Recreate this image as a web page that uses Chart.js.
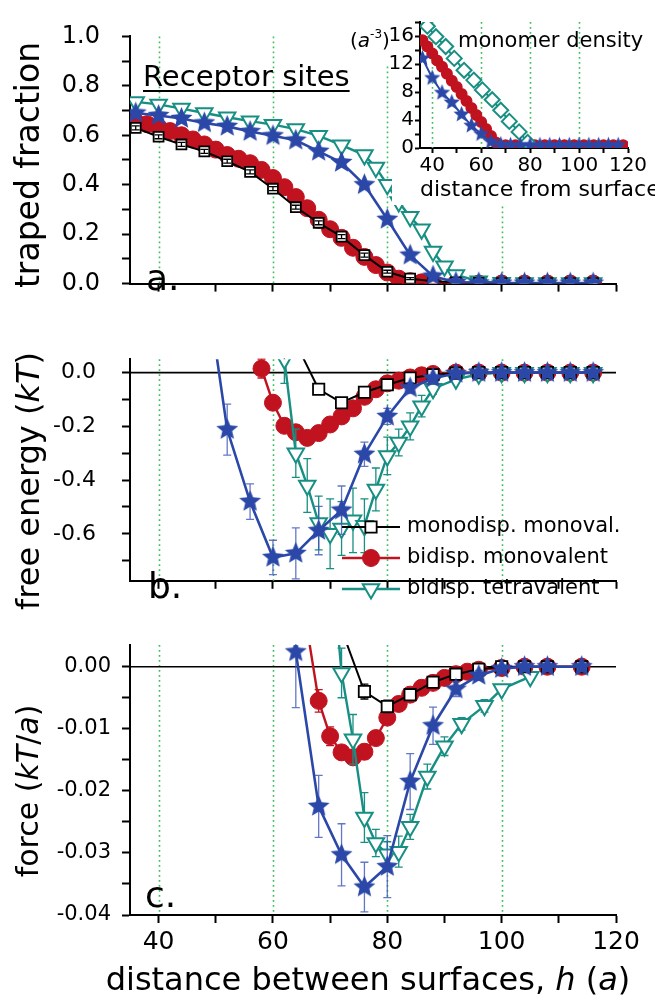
<!DOCTYPE html>
<html>
<head>
<meta charset="utf-8">
<script src="https://cdn.jsdelivr.net/npm/chart.js@4.4.1/dist/chart.umd.min.js"></script>
<style>
  html, body { margin: 0; padding: 0; background: #fff; overflow: hidden; }
  .box { position: absolute; }
</style>
</head>
<body>
<div class="box" style="left:0;top:0;width:655px;height:320px"><canvas id="panelA"></canvas></div>
<div class="box" style="left:0;top:320px;width:655px;height:300px"><canvas id="panelB"></canvas></div>
<div class="box" style="left:0;top:620px;width:655px;height:380px"><canvas id="panelC"></canvas></div>
<div class="box" style="left:340px;top:0;width:315px;height:205px"><canvas id="inset"></canvas></div>
<script>
// ---- data ----
const seriesNames = ["monodisp. monoval.", "bidisp. monovalent", "bidisp. tetravalent"];
const gridAt = [40, 60, 80, 100];

// a. traped fraction
const hA_mono = [36, 40, 44, 48, 52, 56, 60, 64, 68, 72, 76, 80, 84, 88, 92, 96, 100, 104, 108, 112, 116];
const fA_mono = [0.63, 0.594, 0.563, 0.535, 0.495, 0.452, 0.384, 0.309, 0.246, 0.19, 0.115, 0.048, 0.02, 0.01, 0.005, 0.003, 0.002, 0.002, 0.002, 0.002, 0.002];
const eA_mono = [0.008, 0.008, 0.008, 0.008, 0.008, 0.008, 0.008, 0.008, 0.008, 0.008, 0.008, 0.006, 0.004, 0, 0, 0, 0, 0, 0, 0, 0];
const hA_bimono = [36, 38, 40, 42, 44, 46, 48, 50, 52, 54, 56, 58, 60, 62, 64, 66, 68, 70, 72, 74, 76, 78, 80, 82, 84, 86, 88, 92, 96, 100, 104, 108, 112, 116];
const fA_bimono = [0.655, 0.645, 0.632, 0.617, 0.6, 0.583, 0.563, 0.542, 0.52, 0.505, 0.487, 0.46, 0.427, 0.39, 0.35, 0.305, 0.258, 0.22, 0.185, 0.145, 0.108, 0.075, 0.045, 0.02, 0.01, 0.005, 0.002, 0.001, 0, 0, 0, 0, 0, 0];
const hA_tetra = [36, 40, 44, 48, 52, 56, 60, 64, 68, 72, 76, 78, 80, 82, 84, 86, 88, 90, 92, 96, 100, 104, 108, 112, 116];
const fA_tetra = [0.735, 0.725, 0.708, 0.69, 0.673, 0.657, 0.643, 0.625, 0.598, 0.56, 0.52, 0.47, 0.4, 0.33, 0.27, 0.22, 0.13, 0.07, 0.035, 0.01, 0.003, 0.002, 0.002, 0.002, 0.002];
const hA_star = [36, 40, 44, 48, 52, 56, 60, 64, 68, 72, 76, 80, 84, 88, 92, 96, 100, 104, 108, 112, 116];
const fA_star = [0.69, 0.68, 0.668, 0.65, 0.636, 0.615, 0.598, 0.58, 0.535, 0.49, 0.4, 0.26, 0.115, 0.03, 0.005, 0.003, 0.002, 0.002, 0.002, 0.002, 0.002];

// b. free energy
const hB_mono = [64, 68, 72, 76, 80, 84, 88, 92, 96, 100, 104, 108, 112, 116];
const gB_mono = [0.11, -0.062, -0.112, -0.073, -0.045, -0.02, -0.008, -0.002, 0, 0, 0, 0, 0, 0];
const eB_mono = [0, 0.008, 0.012, 0.01, 0.008, 0.006, 0.004, 0, 0, 0, 0, 0, 0, 0];
const hB_bimono = [58, 60, 62, 64, 66, 68, 70, 72, 74, 76, 78, 80, 82, 84, 86, 88, 92, 96, 100, 104, 108, 112, 116];
const gB_bimono = [0.015, -0.112, -0.198, -0.222, -0.243, -0.225, -0.193, -0.163, -0.133, -0.09, -0.062, -0.04, -0.03, -0.018, -0.01, -0.005, 0, 0, 0, 0, 0, 0, 0];
const eB_bimono = [0.035, 0.02, 0.015, 0.01, 0.01, 0.01, 0.008, 0.008, 0.006, 0.006, 0.005, 0.005, 0.004, 0, 0, 0, 0, 0, 0, 0, 0, 0, 0];
const hB_tetra = [62, 64, 66, 68, 70, 72, 74, 76, 78, 80, 82, 84, 86, 88, 92, 96, 100, 104, 108, 112, 116];
const gB_tetra = [0.05, -0.3, -0.42, -0.56, -0.6, -0.58, -0.55, -0.57, -0.435, -0.31, -0.26, -0.2, -0.125, -0.06, -0.025, -0.006, 0, 0, 0, 0, 0];
const eB_tetra = [0.09, 0.09, 0.1, 0.1, 0.13, 0.1, 0.12, 0.1, 0.08, 0.07, 0.05, 0.05, 0.04, 0.02, 0.01, 0, 0, 0, 0, 0, 0];
const hB_star = [48, 52, 56, 60, 64, 68, 72, 76, 80, 84, 88, 92, 96, 100, 104, 108, 112, 116];
const gB_star = [0.38, -0.212, -0.48, -0.688, -0.673, -0.588, -0.512, -0.304, -0.163, -0.057, -0.021, -0.003, 0, 0, 0, 0, 0, 0];
const eB_star = [0, 0.095, 0.066, 0.064, 0.095, 0.09, 0.09, 0.045, 0.03, 0.02, 0.01, 0, 0, 0, 0, 0, 0, 0];

// c. force
const hC_mono = [72, 76, 80, 84, 88, 92, 96, 100, 104, 108, 114];
const pC_mono = [0.006, -0.004, -0.0064, -0.0045, -0.0025, -0.0012, -0.0004, 0, 0, 0, 0];
const eC_mono = [0, 0.0012, 0.001, 0.0008, 0.0006, 0.0005, 0.0004, 0, 0, 0, 0];
const hC_bimono = [66, 68, 70, 72, 74, 76, 78, 80, 82, 84, 86, 88, 90, 92, 94, 96, 100, 104, 108, 114];
const pC_bimono = [0.006, -0.0055, -0.0112, -0.0138, -0.0146, -0.0137, -0.0115, -0.0082, -0.006, -0.0045, -0.0034, -0.0026, -0.0018, -0.0012, -0.0008, -0.0005, -0.0002, 0, 0, 0];
const eC_bimono = [0, 0.0018, 0.0015, 0.001, 0.001, 0.0012, 0.001, 0.0008, 0.0006, 0.0005, 0.0004, 0.0004, 0, 0, 0, 0, 0, 0, 0, 0];
const hC_tetra = [70, 72, 74, 76, 78, 80, 82, 84, 87, 90, 93, 97, 100, 105];
const pC_tetra = [0.02, -0.001, -0.0117, -0.0243, -0.0284, -0.0302, -0.0298, -0.0258, -0.0177, -0.0128, -0.0092, -0.0063, -0.0036, -0.0016];
const eC_tetra = [0, 0.004, 0.004, 0.004, 0.0022, 0.002, 0.0025, 0.002, 0.002, 0.0015, 0.001, 0.001, 0.0006, 0.0005];
const hC_star = [64, 68, 72, 76, 80, 84, 88, 92, 96, 100, 104, 108, 114];
const pC_star = [0.0024, -0.0225, -0.0303, -0.0355, -0.0322, -0.0185, -0.0095, -0.0036, -0.0014, -0.0003, 0, 0, 0];
const eC_star = [0.009, 0.005, 0.005, 0.004, 0.005, 0.0045, 0.003, 0.0012, 0.0008, 0.0005, 0, 0, 0];

// inset: monomer density
const hI_tetra = [38, 41.5, 45.5, 49, 53, 57, 60.5, 64.5, 68, 71.5, 75.5, 79];
const nI_tetra = [17.4, 15.9, 14.5, 12.8, 11.1, 9.7, 8.3, 6.9, 5.4, 3.8, 2.3, 0.8];
const hI_bimono = [36, 38, 40, 42, 44, 46, 48, 50, 52, 54, 56, 58, 60, 62, 64, 66, 70, 74, 78, 82, 86, 90, 94, 98, 102, 106, 110, 114, 118];
const nI_bimono = [15.4, 14.5, 13.5, 12.5, 11.6, 10.6, 9.6, 8.7, 7.7, 6.7, 5.7, 4.7, 3.7, 2.7, 1.7, 0.8, 0.4, 0.4, 0.4, 0.4, 0.4, 0.4, 0.4, 0.4, 0.4, 0.4, 0.4, 0.4, 0.4];
const hI_star = [36, 40, 44, 48, 52, 56, 60, 64, 68, 72, 76, 80, 84, 88, 92, 96, 100, 104, 108, 112, 116];
const nI_star = [12.8, 10.0, 7.9, 6.5, 4.8, 3.2, 2.0, 0.9, 0.5, 0.4, 0.4, 0.4, 0.4, 0.4, 0.4, 0.4, 0.4, 0.4, 0.4, 0.4, 0.4];

// ---- styling ----
const FONT = '"DejaVu Sans", sans-serif';
const BLACK = "#000000", RED = "#c1121f", BLUE = "#2b48a8", TEAL = "#178f82", GREEN = "#3cbf5e";
Chart.defaults.font.family = FONT;
Chart.defaults.color = "#000";

function starImage(r, color) {
  const c = document.createElement("canvas");
  const s = Math.ceil(2 * r + 2);
  c.width = c.height = s;
  const g = c.getContext("2d");
  g.fillStyle = color;
  g.beginPath();
  for (let i = 0; i < 10; i++) {
    const rr = i % 2 ? r * 0.45 : r;
    const a = -Math.PI / 2 + i * Math.PI / 5;
    g.lineTo(s / 2 + rr * Math.cos(a), s / 2 + rr * Math.sin(a));
  }
  g.closePath();
  g.fill();
  return c;
}

function series(xs, ys, errs, style) {
  return Object.assign({
    data: xs.map((x, i) => ({ x: x, y: ys[i] })),
    errors: errs,
    tension: 0,
    fill: false
  }, style);
}

const monoStyle = { label: seriesNames[0], keyRow: 0, borderColor: BLACK, borderWidth: 2, pointStyle: "rect", pointRadius: 8, pointBackgroundColor: "#fff", pointBorderColor: BLACK, pointBorderWidth: 1.8 };
const bimonoStyle = { label: seriesNames[1], keyRow: 1, borderColor: RED, borderWidth: 2.4, pointStyle: "circle", pointRadius: 8.5, pointBackgroundColor: RED, pointBorderColor: RED, pointBorderWidth: 1 };
const tetraStyle = { label: seriesNames[2], keyRow: 2, borderColor: TEAL, borderWidth: 2.4, pointStyle: "triangle", pointRotation: 180, pointRadius: 9.5, pointBackgroundColor: "#fff", pointBorderColor: TEAL, pointBorderWidth: 2 };
const starStyle = { borderColor: BLUE, borderWidth: 2.6, pointStyle: starImage(11.5, BLUE), errorColor: "rgba(60,85,185,0.8)" };

// dotted guides and the zero line
const guides = {
  id: "guides",
  beforeDatasetsDraw(chart, args, o) {
    const { ctx, chartArea: a, scales: { x, y } } = chart;
    ctx.save();
    ctx.strokeStyle = GREEN;
    ctx.lineWidth = 1.6;
    ctx.setLineDash([1.8, 3.2]);
    (o.at || []).forEach(v => {
      const px = Math.round(x.getPixelForValue(v)) + 0.5;
      ctx.beginPath(); ctx.moveTo(px, a.top); ctx.lineTo(px, a.bottom); ctx.stroke();
    });
    if (o.zero) {
      ctx.setLineDash([]);
      ctx.strokeStyle = "#000";
      ctx.lineWidth = 1.6;
      const py = y.getPixelForValue(0);
      ctx.beginPath(); ctx.moveTo(a.left, py); ctx.lineTo(a.right, py); ctx.stroke();
    }
    ctx.restore();
  }
};

function drawErrors(chart, index, onTop) {
  const ds = chart.data.datasets[index];
  if (!ds.errors || !!ds.errorsOnTop !== onTop) return;
  const { ctx, chartArea: a, scales: { x, y } } = chart;
  ctx.save();
  ctx.beginPath(); ctx.rect(a.left, a.top - 1, a.width, a.height + 2); ctx.clip();
  ctx.strokeStyle = ds.errorColor || ds.borderColor;
  ctx.lineWidth = 1.3;
  ds.data.forEach((p, i) => {
    const e = ds.errors[i];
    if (!e) return;
    const px = x.getPixelForValue(p.x);
    const y1 = y.getPixelForValue(p.y - e), y2 = y.getPixelForValue(p.y + e);
    ctx.beginPath();
    ctx.moveTo(px, y1); ctx.lineTo(px, y2);
    ctx.moveTo(px - 4, y1); ctx.lineTo(px + 4, y1);
    ctx.moveTo(px - 4, y2); ctx.lineTo(px + 4, y2);
    ctx.stroke();
  });
  ctx.restore();
}
const errorBars = {
  id: "errorBars",
  beforeDatasetDraw(chart, args) { drawErrors(chart, args.index, false); },
  afterDatasetDraw(chart, args) { drawErrors(chart, args.index, true); }
};

// free text: titles, panel letters, notes
const figText = {
  id: "figText",
  beforeDraw(chart, args, o) {
    if (!o.blank) return;
    const ctx = chart.ctx;
    ctx.save();
    ctx.fillStyle = "#fff";
    o.blank.forEach(r => ctx.fillRect(r[0], r[1], r[2], r[3]));
    ctx.restore();
  },
  afterDraw(chart, args, o) {
    const ctx = chart.ctx;
    (o.items || []).forEach(it => {
      ctx.save();
      ctx.translate(it.x, it.y);
      if (it.rotate) ctx.rotate(-Math.PI / 2);
      ctx.fillStyle = "#000";
      ctx.textBaseline = "alphabetic";
      const fontOf = p => (p[1] === "i" ? "italic " : "") + (p[1] === "sup" ? Math.round(it.size * 0.62) : it.size) + "px " + FONT;
      let w = 0;
      it.parts.forEach(p => { ctx.font = fontOf(p); w += ctx.measureText(p[0]).width; });
      let cx = it.align === "center" ? -w / 2 : 0;
      const x0 = cx;
      it.parts.forEach(p => {
        ctx.font = fontOf(p);
        ctx.fillText(p[0], cx, p[1] === "sup" ? -it.size * 0.45 : 0);
        cx += ctx.measureText(p[0]).width;
      });
      if (it.underline) ctx.fillRect(x0, 4, w, 2);
      ctx.restore();
    });
  }
};

const seriesKey = {
  id: "seriesKey",
  afterDatasetsDraw(chart, args, o) {
    if (!o.show) return;
    const ctx = chart.ctx;
    const rows = chart.data.datasets.filter(d => d.label).sort((a, b) => a.keyRow - b.keyRow);
    rows.forEach((d, i) => {
      const y = o.y + i * o.gap;
      ctx.save();
      ctx.strokeStyle = d.borderColor;
      ctx.lineWidth = d.borderWidth;
      ctx.beginPath(); ctx.moveTo(o.x, y); ctx.lineTo(o.x + o.len, y); ctx.stroke();
      ctx.fillStyle = d.pointBackgroundColor;
      ctx.strokeStyle = d.pointBorderColor;
      ctx.lineWidth = d.pointBorderWidth;
      Chart.helpers.drawPoint(ctx, { pointStyle: d.pointStyle, rotation: d.pointRotation || 0, radius: d.pointRadius, borderWidth: d.pointBorderWidth }, o.x + o.len / 2, y);
      ctx.fillStyle = "#000";
      ctx.font = o.size + "px " + FONT;
      ctx.textBaseline = "middle";
      ctx.fillText(d.label, o.x + o.len + 7, y);
      ctx.restore();
    });
  }
};

function xAxis(showLabels, height, size) {
  return {
    type: "linear", min: 35, max: 120,
    afterFit: s => { s.height = height; },
    ticks: {
      display: showLabels, stepSize: 10, autoSkip: false, includeBounds: false, maxRotation: 0, padding: 4,
      font: { size: size || 12 }, color: "#000",
      callback: v => (v % 20 === 0 ? String(v) : "")
    },
    grid: { drawOnChartArea: false, drawTicks: true, tickLength: 8, tickWidth: 2, tickColor: "#000" },
    border: { display: true, color: "#000", width: 2 }
  };
}
function yAxis(min, max, step, every, digits, size, pad) {
  return {
    type: "linear", min: min, max: max,
    afterFit: s => { s.width = 120; },
    ticks: {
      stepSize: step, autoSkip: false, includeBounds: false, padding: pad,
      font: { size: size }, color: "#000",
      callback: v => (Math.round(v / step) % every === 0 ? (Math.abs(v) < 1e-9 ? 0 : v).toFixed(digits) : "")
    },
    grid: { drawOnChartArea: false, drawTicks: true, tickLength: 8, tickWidth: 2, tickColor: "#000" },
    border: { display: true, color: "#000", width: 2 }
  };
}

function panel(id, datasets, scales, padding, extra) {
  return new Chart(document.getElementById(id), {
    type: "line",
    data: { datasets: datasets },
    options: {
      responsive: true,
      maintainAspectRatio: false,
      animation: false,
      layout: { padding: padding },
      scales: scales,
      plugins: Object.assign({ legend: { display: false }, tooltip: { enabled: false } }, extra)
    },
    plugins: [guides, errorBars, figText, seriesKey]
  });
}

// a.
panel("panelA", [
  series(hA_star, fA_star, null, starStyle),
  Object.assign(series(hA_mono, fA_mono, eA_mono, Object.assign({}, monoStyle, { pointRadius: 7 })), { errorsOnTop: true }),
  series(hA_tetra, fA_tetra, null, tetraStyle),
  series(hA_bimono, fA_bimono, null, bimonoStyle)
], {
  x: xAxis(false, 12),
  y: yAxis(0, 1, 0.1, 2, 1, 24, 22)
}, { left: 10, right: 39, top: 29, bottom: 10 }, {
  guides: { at: gridAt },
  figText: { items: [
    { parts: [["traped fraction", ""]], x: 39, y: 165, size: 33, align: "center", rotate: true },
    { parts: [["Receptor sites", ""]], x: 143, y: 86, size: 29, underline: true },
    { parts: [["a.", ""]], x: 146, y: 290, size: 36 }
  ] }
});

// b.
panel("panelB", [
  series(hB_star, gB_star, eB_star, starStyle),
  series(hB_mono, gB_mono, eB_mono, monoStyle),
  series(hB_tetra, gB_tetra, eB_tetra, tetraStyle),
  series(hB_bimono, gB_bimono, eB_bimono, bimonoStyle)
], {
  x: xAxis(false, 12),
  y: yAxis(-0.775, 0.05, 0.1, 2, 1, 22, 26)
}, { left: 10, right: 39, top: 17, bottom: 1 }, {
  guides: { at: gridAt, zero: true },
  seriesKey: { show: true, x: 342, y: 207, gap: 31, len: 58, size: 21 },
  figText: { items: [
    { parts: [["free energy (", ""], ["kT", "i"], [")", ""]], x: 39, y: 161, size: 32, align: "center", rotate: true },
    { parts: [["b.", ""]], x: 148, y: 278, size: 36 }
  ] }
});

// c.
panel("panelC", [
  series(hC_star, pC_star, eC_star, starStyle),
  series(hC_mono, pC_mono, eC_mono, monoStyle),
  series(hC_tetra, pC_tetra, eC_tetra, tetraStyle),
  series(hC_bimono, pC_bimono, eC_bimono, bimonoStyle)
], {
  x: xAxis(true, 45, 25),
  y: yAxis(-0.04, 0.0035, 0.005, 2, 2, 21, 11)
}, { left: 10, right: 39, top: 25, bottom: 40 }, {
  guides: { at: gridAt, zero: true },
  figText: { items: [
    { parts: [["force (", ""], ["kT", "i"], ["/", ""], ["a", "i"], [")", ""]], x: 38, y: 171, size: 30, align: "center", rotate: true },
    { parts: [["c.", ""]], x: 145, y: 287, size: 36 },
    { parts: [["distance between surfaces, ", ""], ["h", "i"], [" (", ""], ["a", "i"], [")", ""]], x: 368, y: 370, size: 32, align: "center" }
  ] }
});

// inset: monomer density
new Chart(document.getElementById("inset"), {
  type: "line",
  data: { datasets: [
    series(hI_star, nI_star, null, { borderColor: BLUE, borderWidth: 2, pointStyle: starImage(8.5, BLUE) }),
    series(hI_tetra, nI_tetra, null, { borderColor: TEAL, borderWidth: 2, pointStyle: "rectRot", pointRadius: 7.5, pointBackgroundColor: "#fff", pointBorderColor: TEAL, pointBorderWidth: 2 }),
    series(hI_bimono, nI_bimono, null, { borderColor: RED, borderWidth: 2, pointStyle: "circle", pointRadius: 5, pointBackgroundColor: RED, pointBorderColor: RED })
  ] },
  options: {
    responsive: true,
    maintainAspectRatio: false,
    animation: false,
    layout: { padding: { left: 40, right: 27, top: 22, bottom: 25 } },
    scales: {
      x: {
        type: "linear", min: 35, max: 120,
        afterFit: s => { s.height = 32; },
        ticks: { stepSize: 10, autoSkip: false, includeBounds: false, maxRotation: 0, padding: 1, font: { size: 20 }, color: "#000",
          callback: v => (v % 20 === 0 ? String(v) : "") },
        grid: { drawOnChartArea: false, drawTicks: true, tickLength: 5, tickWidth: 2, tickColor: "#000" },
        border: { display: true, color: "#000", width: 2 }
      },
      y: {
        type: "linear", min: 0, max: 18,
        afterFit: s => { s.width = 40; },
        ticks: { stepSize: 2, autoSkip: false, includeBounds: false, padding: 1, font: { size: 20 }, color: "#000",
          callback: v => (v % 4 === 0 ? String(v) : "") },
        grid: { drawOnChartArea: false, drawTicks: true, tickLength: 5, tickWidth: 2, tickColor: "#000" },
        border: { display: true, color: "#000", width: 2 }
      }
    },
    plugins: {
      legend: { display: false },
      tooltip: { enabled: false },
      guides: { at: gridAt },
      figText: {
        blank: [[52, 0, 263, 205], [0, 0, 52, 66]],
        items: [
          { parts: [["(", ""], ["a", "i"], ["-3", "sup"], [")", ""]], x: 10, y: 47, size: 20 },
          { parts: [["monomer density", ""]], x: 118, y: 47, size: 21 },
          { parts: [["distance from surface", ""]], x: 80, y: 196, size: 22 }
        ]
      }
    }
  },
  plugins: [figText, guides, errorBars]
});
</script>
</body>
</html>
